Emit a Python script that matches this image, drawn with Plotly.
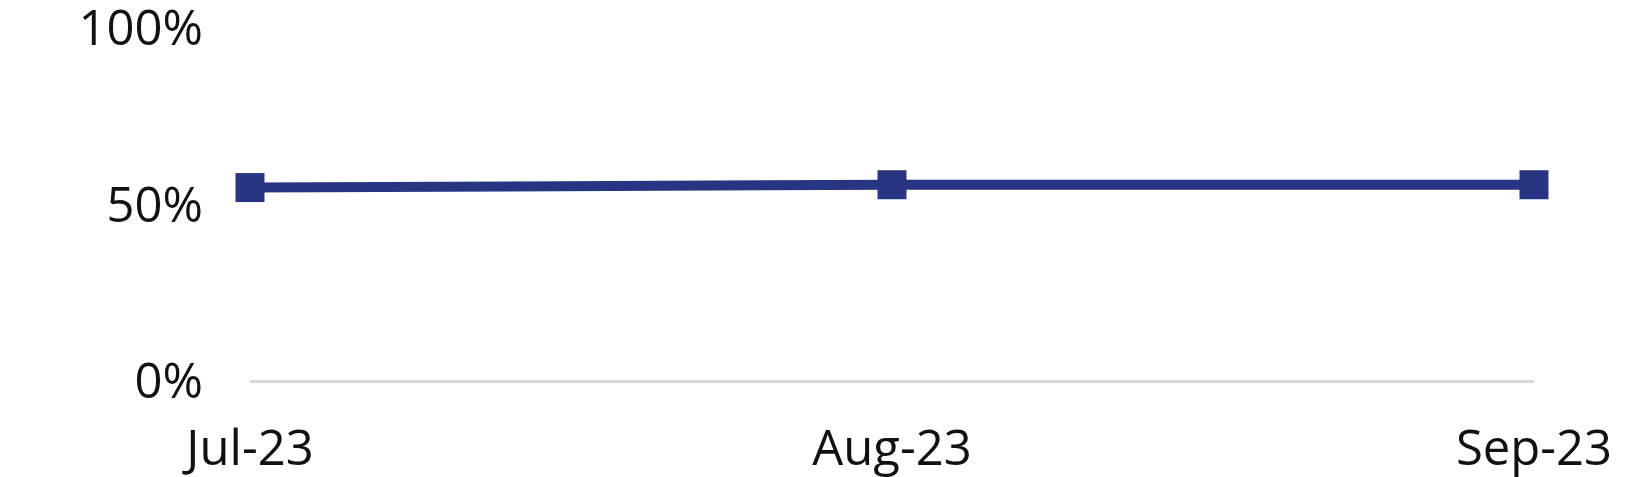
import plotly.graph_objects as go

# monthly share values (fraction)
months = ["Jul-23", "Aug-23", "Sep-23"]
share = [0.548, 0.556, 0.556]
y_ticks = [0, 0.5, 1.0]
y_tick_labels = ["0%", "50%", "100%"]

fig = go.Figure()

fig.add_trace(go.Scatter(
    x=months,
    y=share,
    mode="lines+markers",
    line=dict(color="#283583", width=10),
    marker=dict(symbol="square", size=29, color="#283583"),
    cliponaxis=False,
    showlegend=False,
))

# margins account for the 8px default body margin of the html page
fig.update_layout(
    width=1647,
    height=477,
    margin=dict(l=242, r=121, t=12, b=104),
    paper_bgcolor="white",
    plot_bgcolor="white",
    font=dict(family="Open Sans, Noto Sans, sans-serif", size=49, color="#111111"),
)

fig.update_xaxes(
    type="category",
    range=[0, 2],
    showgrid=False,
    showline=False,
    zeroline=False,
    ticks="",
    ticklabelstandoff=34,
    automargin=False,
)

fig.update_yaxes(
    range=[0, 1.0227],
    tickvals=y_ticks,
    ticktext=y_tick_labels,
    showgrid=False,
    zeroline=True,
    zerolinecolor="#d9d9d9",
    zerolinewidth=3,
    showline=False,
    ticks="",
    ticklabelstandoff=46,
    ticklabeloverflow="allow",
    automargin=False,
)

fig.write_html("out.html")
